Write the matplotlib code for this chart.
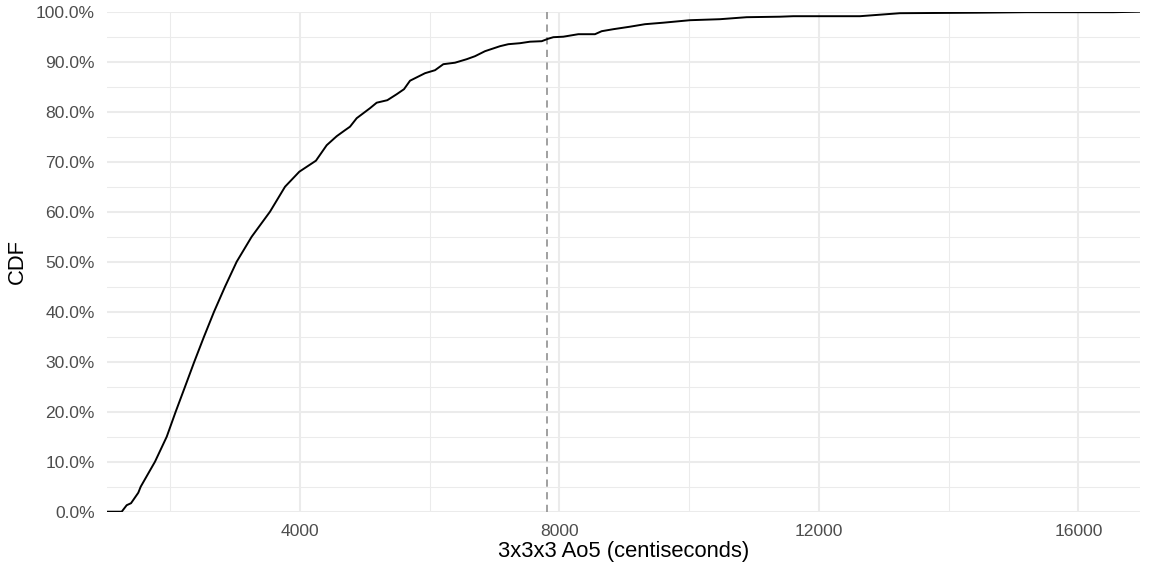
import matplotlib
matplotlib.use("Agg")
import matplotlib.pyplot as plt
from matplotlib.ticker import FuncFormatter, MultipleLocator

# ECDF: solve time (centiseconds) vs cumulative share
times = [1026, 1257, 1334, 1401, 1513, 1550, 1770, 1951, 2089, 2233, 2376, 2525,
         2680, 2849, 3029, 3260, 3542, 3774, 3994, 4250, 4416, 4570, 4698, 4775,
         4878, 5083, 5186, 5350, 5495, 5607, 5700, 5777, 5931, 6085, 6213, 6393,
         6573, 6701, 6855, 7086, 7214, 7394, 7548, 7729, 7830, 7908, 8062, 8293,
         8550, 8653, 8832, 9089, 9320, 9602, 10014, 10476, 10887, 11400, 11606,
         12633, 13249, 14431, 15202, 16533, 16948]
cdf = [0.0, 0.0, 0.013, 0.017, 0.038, 0.05, 0.10, 0.15, 0.20, 0.25, 0.30, 0.35,
       0.40, 0.45, 0.50, 0.55, 0.60, 0.65, 0.68, 0.702, 0.733, 0.751, 0.763, 0.77,
       0.787, 0.807, 0.818, 0.823, 0.835, 0.845, 0.862, 0.867, 0.877, 0.883, 0.895, 0.898,
       0.905, 0.911, 0.921, 0.931, 0.935, 0.937, 0.940, 0.941, 0.946, 0.949, 0.950, 0.955,
       0.955, 0.961, 0.965, 0.970, 0.975, 0.978, 0.983, 0.985, 0.989, 0.990, 0.991,
       0.991, 0.997, 0.998, 0.999, 0.999, 1.0]
cutoff = 7806
x_limits = [1026, 16948]
x_major = [4000, 8000, 12000, 16000]
x_minor = [2000, 6000, 10000, 14000]

plt.rcParams['font.family'] = ['Liberation Sans', 'DejaVu Sans']

fig = plt.figure(figsize=(11.52, 5.76), dpi=100)
ax = fig.add_axes([106.7 / 1152, 1 - 511.7 / 576, (1140 - 106.7) / 1152, 500 / 576])

ax.set_xlim(*x_limits)
ax.set_ylim(0, 1)
ax.set_xticks(x_major)
ax.set_xticks(x_minor, minor=True)
ax.yaxis.set_major_locator(MultipleLocator(0.1))
ax.yaxis.set_minor_locator(MultipleLocator(0.05))
ax.yaxis.set_major_formatter(FuncFormatter(lambda v, p: f"{v*100:.1f}%"))

ax.grid(which='major', color='#EBEBEB', linewidth=1.5)
ax.grid(which='minor', color='#EBEBEB', linewidth=0.75)
ax.set_axisbelow(True)
for s in ax.spines.values():
    s.set_visible(False)
ax.tick_params(which='both', length=0)
ax.tick_params(axis='y', labelsize=12.6, labelcolor='#4D4D4D', pad=8.5)
ax.tick_params(axis='x', labelsize=12.6, labelcolor='#4D4D4D', pad=8.5)

ax.plot(times, cdf, color='black', linewidth=1.4, zorder=3)
ax.axvline(cutoff, color='#999999', linestyle=(0, (4, 3)), linewidth=1.3, zorder=2)

ax.set_xlabel("3x3x3 Ao5 (centiseconds)", fontsize=15.8, color='black', labelpad=2)
ax.set_ylabel("CDF", fontsize=15.8, color='black', labelpad=6)

fig.savefig("out.png", dpi=100)
